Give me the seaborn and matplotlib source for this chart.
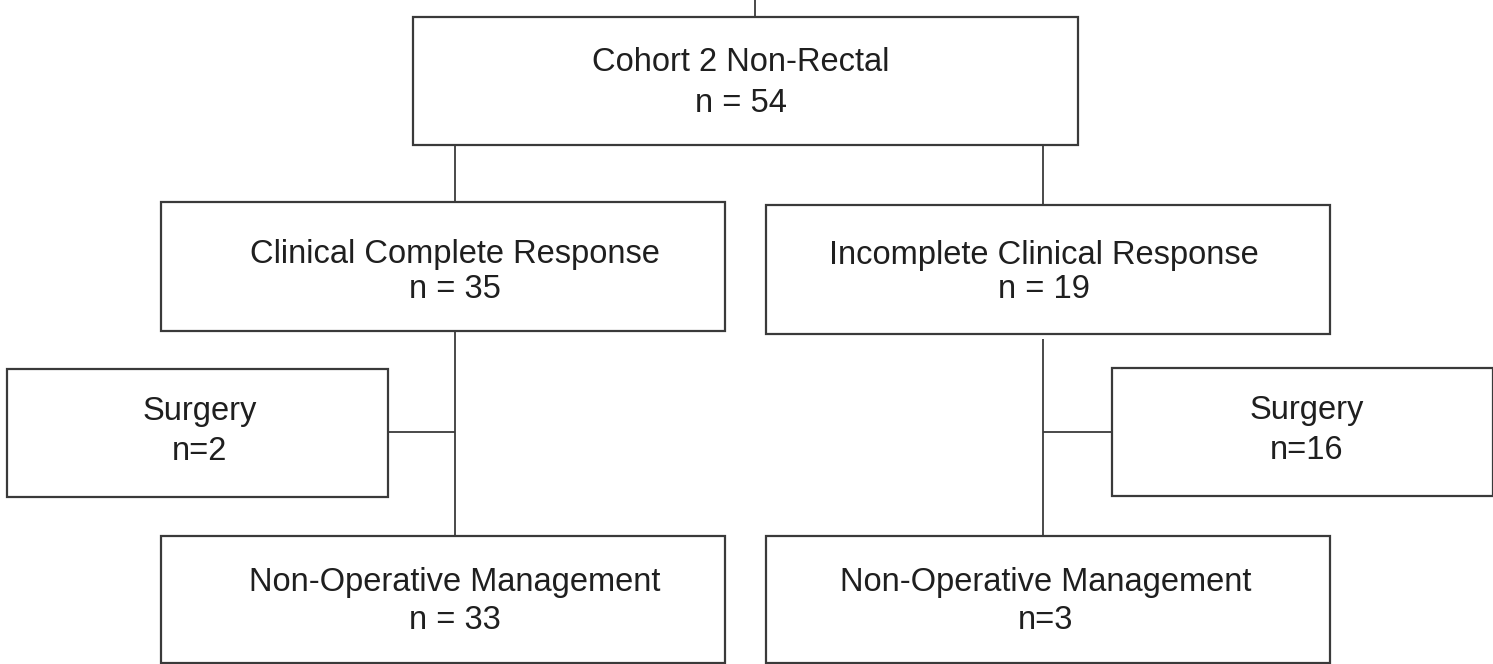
import matplotlib
matplotlib.use("Agg")
import matplotlib.pyplot as plt
from matplotlib.patches import Rectangle
import seaborn as sns

# node data
nodes = ["top", "ccr", "icr", "surg_l", "surg_r", "nom_l", "nom_r"]
titles = ["Cohort 2 Non-Rectal", "Clinical Complete Response", "Incomplete Clinical Response",
          "Surgery", "Surgery", "Non-Operative Management", "Non-Operative Management"]
counts = [54, 35, 19, 2, 16, 33, 3]
spaced = [True, True, True, False, False, True, False]  # "n = 54" vs "n=2"

# layout in pixels: left, top, right, bottom, text center x, baseline 1, baseline 2
boxes = {
    "top":    (413, 17, 1078, 145, 741, 71, 112),
    "ccr":    (161, 202, 725, 331, 455, 263, 298),
    "icr":    (766, 205, 1330, 334, 1044, 264, 298),
    "surg_l": (7, 369, 388, 497, 200, 420, 460),
    "surg_r": (1112, 368, 1493, 496, 1307, 419, 459),
    "nom_l":  (161, 536, 725, 663, 455, 591, 629),
    "nom_r":  (766, 536, 1330, 663, 1046, 591, 629),
}

# connector segments (x0, y0, x1, y1)
links = [
    (755, 0, 755, 17),
    (455, 145, 455, 202),
    (1043, 145, 1043, 205),
    (455, 331, 455, 536),
    (388, 432, 455, 432),
    (1043, 339, 1043, 536),
    (1043, 432, 1112, 432),
]

sns.set_theme(style="white")
plt.rcParams['font.family'] = ['Liberation Sans', 'DejaVu Sans']

fig = plt.figure(figsize=(14.93, 6.64), dpi=100)
ax = fig.add_axes([0, 0, 1, 1])
ax.set_xlim(0, 1493)
ax.set_ylim(664, 0)
ax.axis("off")

edge = "#3a3a3a"
for x0, y0, x1, y1 in links:
    ax.plot([x0, x1], [y0, y1], color=edge, lw=1.3, solid_capstyle="butt")

for name, title, n, sp in zip(nodes, titles, counts, spaced):
    l, t, r, b, cx, y1, y2 = boxes[name]
    ax.add_patch(Rectangle((l, t), r - l, b - t, fill=True, facecolor="white",
                           edgecolor=edge, lw=1.6, zorder=2))
    label = f"n = {n}" if sp else f"n={n}"
    ax.text(cx, y1, title, ha="center", va="baseline", fontsize=23.5, color="#1f1f1f", zorder=3)
    ax.text(cx, y2, label, ha="center", va="baseline", fontsize=23.5, color="#1f1f1f", zorder=3)

fig.savefig("out.png", dpi=100, facecolor="white")
